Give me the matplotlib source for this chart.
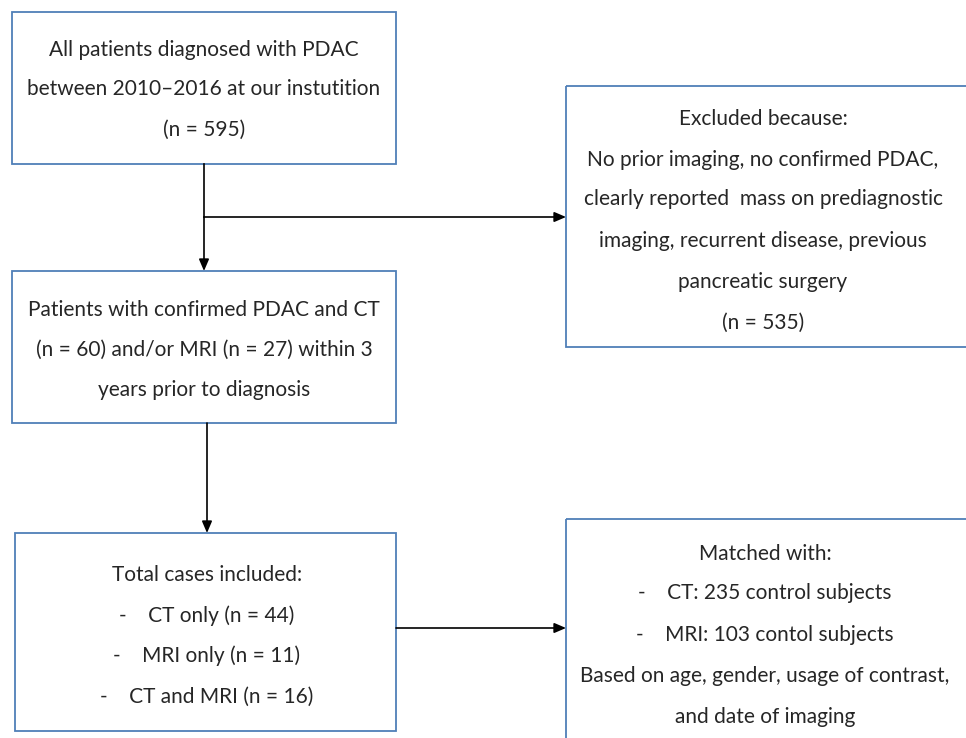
import matplotlib.pyplot as plt
import matplotlib.patches as patches

# box texts
start_lines = ["All patients diagnosed with PDAC",
               "between 2010\u20132016 at our instutition",
               "(n = 595)"]
excluded_lines = ["Excluded because:",
                  "No prior imaging, no confirmed PDAC,",
                  "clearly reported  mass on prediagnostic",
                  "imaging, recurrent disease, previous",
                  "pancreatic surgery",
                  "(n = 535)"]
imaging_lines = ["Patients with confirmed PDAC and CT",
                 "(n = 60) and/or MRI (n = 27) within 3",
                 "years prior to diagnosis"]
included_lines = ["Total cases included:",
                  "-    CT only (n = 44)",
                  "-    MRI only (n = 11)",
                  "-    CT and MRI (n = 16)"]
matched_lines = ["Matched with:",
                 "-    CT: 235 control subjects",
                 "-    MRI: 103 contol subjects",
                 "Based on age, gender, usage of contrast,",
                 "and date of imaging"]

plt.rcParams['font.family'] = ['Lato', 'DejaVu Sans']

fig = plt.figure(figsize=(9.66, 7.38), dpi=100)
ax = fig.add_axes([0, 0, 1, 1], frameon=False)
ax.set_xlim(0, 966), ax.set_xticks([])
ax.set_ylim(738, 0), ax.set_yticks([])

EDGE = '#4f7fb8'


def box(x0, y0, x1, y1, lines, cx, ys):
	ax.add_patch(patches.Rectangle((x0, y0), x1 - x0, y1 - y0, fill=False,
	                               edgecolor=EDGE, linewidth=1.3))
	for s, y in zip(lines, ys):
		ax.text(cx, y, s, ha='center', va='center', fontsize=15, color='#262626')


def arrow(p0, p1):
	ax.annotate('', xy=p1, xytext=p0,
	            arrowprops=dict(arrowstyle='-|>,head_length=0.7,head_width=0.3',
	                            color='black', lw=1.2, shrinkA=0, shrinkB=0))


box(12, 12, 396, 164, start_lines, 204, [50, 89, 130])
box(566, 86, 975, 347, excluded_lines, 763, [119, 160, 199, 241, 282, 323])
box(12, 271, 396, 423, imaging_lines, 204, [310, 350, 390])
box(15, 533, 396, 731, included_lines, 207, [575, 616, 656, 697])
box(566, 519, 975, 760, matched_lines, 765, [554, 593, 635, 676, 717])

# connectors
ax.plot([204, 204], [164, 217], color='black', lw=1.2)
arrow((204, 217), (204, 271))
arrow((204, 217), (566, 217))
arrow((207, 423), (207, 533))
arrow((396, 628), (566, 628))

fig.savefig('out.png', dpi=100)
